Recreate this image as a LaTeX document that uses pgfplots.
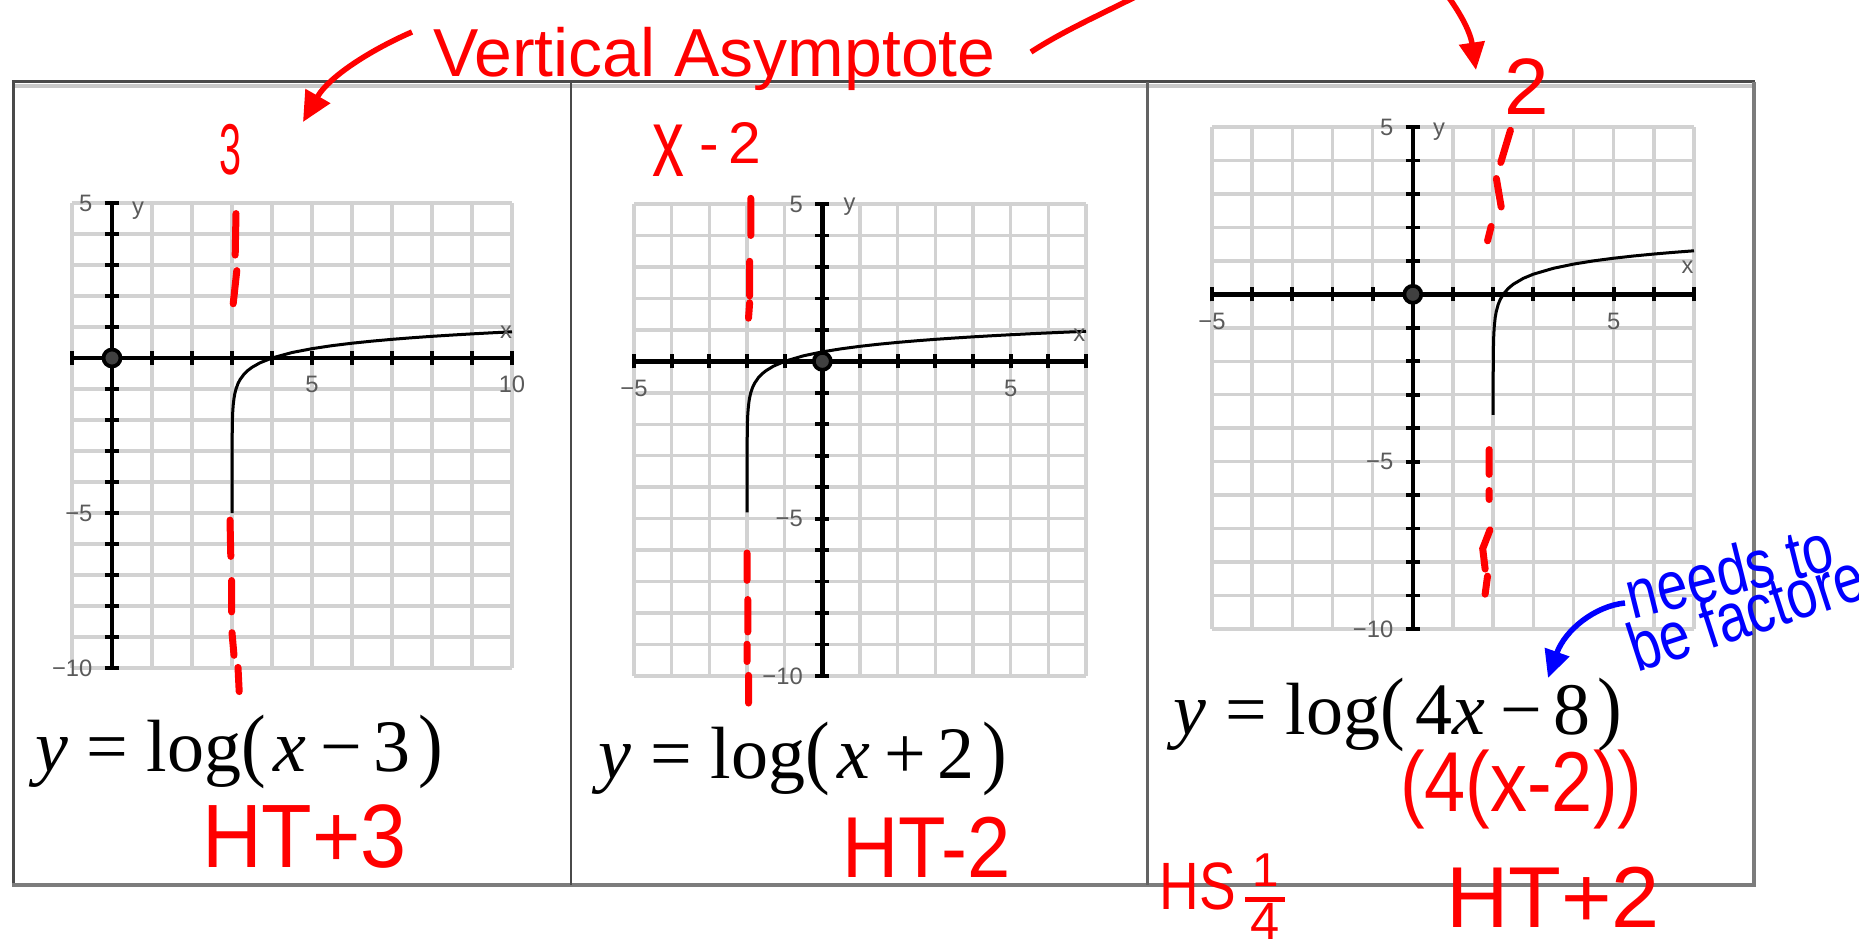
\documentclass[border=0pt]{standalone}
\usepackage{fontspec}
\setmainfont{Liberation Serif}
\newfontfamily\handfont{Liberation Sans}
\newfontfamily\ticksf{Liberation Sans}
\usepackage{graphicx}
\usepackage{pgfplots}
\pgfplotsset{compat=1.18}
\usetikzlibrary{arrows.meta}

\definecolor{gridgray}{HTML}{D2D2D2}
\definecolor{ticktext}{HTML}{5A5A5A}
\definecolor{frameDark}{HTML}{4A4A4A}
\definecolor{frameLight}{HTML}{C8C8C8}
\definecolor{frameMid}{HTML}{7C7C7C}
\definecolor{inkred}{HTML}{FF0000}
\definecolor{inkblue}{HTML}{0000FF}

\newcommand{\lp}{\scalebox{1}[1.1]{(}}
\newcommand{\rp}{\scalebox{1}[1.1]{)}}
\newcommand{\eqfont}{\fontsize{29.6}{30}\selectfont}

\pgfplotsset{
  panel/.style={
    scale only axis,
    anchor=south west,
    axis lines=middle,
    axis line style={-, black, line width=1.8pt},
    grid=both,
    major grid style={gridgray, line width=1.4pt},
    minor grid style={gridgray, line width=1.4pt},
    tick align=center,
    major tick length=5.6pt,
    minor tick length=5.6pt,
    tick style={black, line width=1.5pt},
    minor tick style={black, line width=1.5pt},
    tick label style={font=\ticksf\fontsize{9.5}{10}\selectfont, color=ticktext},
    xticklabel style={yshift=-1pt},
    yticklabel style={xshift=-1.5pt},
    ymin=-10, ymax=5,
    ytick={-10,-5,5}, yticklabels={−10,−5,5},
    minor ytick={-10,-9,...,5},
    clip=false,
  },
  curve/.style={black, line width=1.2pt, line join=round},
  asym/.style={inkred, line width=2.8pt, line cap=round, unbounded coords=jump},
  origin/.style={only marks, mark=*, mark size=3.4pt,
    mark options={draw=black, fill=black!75, line width=1.5pt}},
}

\begin{document}
\begin{tikzpicture}
\useasboundingbox (0,0) rectangle (743.6pt,377.6pt);
\clip (0,0) rectangle (743.6pt,377.6pt);

% table frame around the three panels
\begin{scope}[x=0.4pt,y=-0.4pt,yshift=377.6pt]
  \draw[frameLight, line width=1.6pt] (14,86) -- (1753,86);
  \draw[frameDark, line width=1.2pt] (12,82) -- (1755,82);
  \draw[frameDark, line width=1.2pt] (13.5,82) -- (13.5,885);
  \draw[frameMid, line width=1.6pt] (1754,82) -- (1754,886);
  \draw[frameMid, line width=1.8pt] (12,885) -- (1756,885);
  \draw[frameDark, line width=0.9pt] (571,82) -- (571,885);
  \draw[frameMid!80!black, line width=1.2pt] (1147,82) -- (1147,885);
\end{scope}

% y = log(x-3)
\begin{axis}[panel, at={(28.8pt,110.4pt)}, width=176pt, height=186pt,
  xmin=-1, xmax=10, xtick={5,10}, xticklabels={5,10}, minor xtick={-1,0,...,10}]
  \addplot[asym] coordinates {(3.1,4.66) (3.08,3.32) (3,nan)
    (3.12,2.82) (3.03,1.75) (3,nan)
    (2.95,-5.23) (2.97,-6.4) (3,nan)
    (2.99,-7.18) (2.99,-8.19) (3,nan)
    (3.0,-8.86) (3.05,-9.59) (3,nan)
    (3.15,-9.98) (3.18,-10.76)};
  \addplot[curve] coordinates {(3.00001,-5) (3.0001,-4) (3.001,-3) (3.01,-2)
    (3.02,-1.699) (3.03,-1.523) (3.05,-1.301) (3.07,-1.155) (3.1,-1)
    (3.15,-0.824) (3.2,-0.699) (3.3,-0.523) (3.4,-0.398) (3.5,-0.301)
    (3.7,-0.155) (4,0) (4.5,0.176) (5,0.301) (5.5,0.398) (6,0.477)
    (6.5,0.544) (7,0.602) (7.5,0.653) (8,0.699) (8.5,0.740) (9,0.778)
    (9.5,0.813) (10,0.845)};
  \addplot[origin] coordinates {(0,0)};
  \node[font=\ticksf\fontsize{9.5}{10}\selectfont, text=ticktext] at (axis cs:9.85,0.84) {x};
  \node[font=\ticksf\fontsize{9.5}{10}\selectfont, text=ticktext] at (axis cs:0.65,4.74) {y};
\end{axis}

% y = log(x+2)
\begin{axis}[panel, at={(253.6pt,107.2pt)}, width=180.8pt, height=188.8pt,
  xmin=-5, xmax=7, xtick={-5,5}, xticklabels={−5,5}, minor xtick={-5,-4,...,7}]
  \addplot[asym] coordinates {(-1.9,5.18) (-1.9,4.0) (-2,nan)
    (-1.93,3.18) (-1.93,2.08) (-2,nan)
    (-1.93,1.86) (-1.96,1.37) (-2,nan)
    (-2.0,-6.09) (-2.0,-6.96) (-2,nan)
    (-1.98,-7.57) (-1.98,-8.6) (-2,nan)
    (-2.0,-8.99) (-2.0,-9.54) (-2,nan)
    (-1.96,-9.98) (-1.96,-10.86)};
  \addplot[curve] coordinates {(-1.999984,-4.8) (-1.9999,-4) (-1.999,-3)
    (-1.99,-2) (-1.98,-1.699) (-1.97,-1.523) (-1.95,-1.301) (-1.93,-1.155)
    (-1.9,-1) (-1.85,-0.824) (-1.8,-0.699) (-1.7,-0.523) (-1.6,-0.398)
    (-1.5,-0.301) (-1.3,-0.155) (-1,0) (-0.5,0.176) (0,0.301) (0.5,0.398)
    (1,0.477) (1.5,0.544) (2,0.602) (2.5,0.653) (3,0.699) (3.5,0.740)
    (4,0.778) (4.5,0.813) (5,0.845) (5.5,0.875) (6,0.903) (6.5,0.929)
    (7,0.954)};
  \addplot[origin] coordinates {(0,0)};
  \node[font=\ticksf\fontsize{9.5}{10}\selectfont, text=ticktext] at (axis cs:6.82,0.83) {x};
  \node[font=\ticksf\fontsize{9.5}{10}\selectfont, text=ticktext] at (axis cs:0.72,4.9) {y};
\end{axis}

% y = log(4x-8)
\begin{axis}[panel, at={(484.8pt,126pt)}, width=192.8pt, height=200.8pt,
  xmin=-5, xmax=7, xtick={-5,5}, xticklabels={−5,5}, minor xtick={-5,-4,...,7}]
  \addplot[asym] coordinates {(2.43,4.9) (2.19,3.94) (2,nan)
    (2.08,3.46) (2.2,2.61) (2,nan)
    (1.95,2.03) (1.86,1.6) (2,nan)
    (1.9,-4.64) (1.9,-5.38) (2,nan)
    (1.9,-5.86) (1.9,-6.13) (2,nan)
    (1.92,-7.04) (1.74,-7.6) (1.8,-8.21) (2,nan)
    (1.86,-8.42) (1.8,-8.96)};
  \addplot[curve] coordinates {(2.0000628,-3.6) (2.00025,-3) (2.0025,-2)
    (2.005,-1.699) (2.0125,-1.301) (2.025,-1) (2.05,-0.699) (2.075,-0.523)
    (2.125,-0.301) (2.175,-0.155) (2.25,0) (2.375,0.176) (2.5,0.301)
    (2.75,0.477) (3,0.602) (3.5,0.778) (4,0.903) (4.5,1) (5,1.079)
    (5.5,1.146) (6,1.204) (6.5,1.255) (7,1.301)};
  \addplot[origin] coordinates {(0,0)};
  \node[font=\ticksf\fontsize{9.5}{10}\selectfont, text=ticktext] at (axis cs:6.84,0.8) {x};
  \node[font=\ticksf\fontsize{9.5}{10}\selectfont, text=ticktext] at (axis cs:0.65,4.87) {y};
\end{axis}

% equations and handwritten notes
\begin{scope}[x=0.4pt,y=-0.4pt,yshift=377.6pt, inner sep=0pt, outer sep=0pt]
  \node[anchor=base west, font=\eqfont] at (35,772)
    {{\itshape y} = log\lp\kern0.1em{\itshape x}\kern0.2em−\kern0.15em3\kern0.1em\rp};
  \node[anchor=base west, font=\eqfont] at (599,779)
    {{\itshape y} = log\lp\kern0.1em{\itshape x}\kern0.2em+\kern0.15em2\kern0.1em\rp};
  \node[anchor=base west, font=\eqfont] at (1174,735)
    {{\itshape y} = log\lp\kern0.15em4{\itshape x}\kern0.2em−\kern0.15em8\kern0.1em\rp};

  \node[anchor=base west, text=inkred, font=\handfont\fontsize{26.4}{27}\selectfont] at (433,77)
    {\resizebox{225pt}{!}{Vertical Asymptote}};
  \draw[inkred, line width=2.2pt, -{Triangle[length=12pt,width=11pt]}]
    (412,32) .. controls (375,48) and (330,75) .. (303,122);
  \draw[inkred, line width=2.2pt] (1031,52) .. controls (1065,30) and (1100,15) .. (1145,-8);
  \draw[inkred, line width=2.2pt, -{Triangle[length=11pt,width=10pt]}]
    (1447,-5) .. controls (1458,10) and (1470,30) .. (1476,70);

  \node[anchor=base west, text=inkred, font=\handfont\fontsize{28.8}{29}\selectfont] at (220,175)
    {\scalebox{0.55}[1]{3}};
  \node[anchor=base west, text=inkred, font=\handfont\fontsize{30}{30}\selectfont] at (652,177)
    {\scalebox{0.85}[1.3]{x}};
  \node[anchor=base west, text=inkred, font=\handfont\fontsize{23.5}{24}\selectfont] at (700,164)
    {-\kern0.15em2};
  \node[anchor=base west, text=inkred, font=\handfont\fontsize{32}{32}\selectfont] at (1504,115) {2};

  \node[anchor=base west, text=inkred, font=\handfont\fontsize{36}{36}\selectfont] at (202,868)
    {\scalebox{0.92}[1]{HT+3}};
  \node[anchor=base west, text=inkred, font=\handfont\fontsize{34.6}{35}\selectfont] at (842,878)
    {\scalebox{0.9}[1]{HT-2}};
  \node[anchor=base west, text=inkred, font=\handfont\fontsize{34}{34}\selectfont] at (1400,812)
    {\scalebox{0.87}[1]{(4(x-2))}};
  \node[anchor=base west, text=inkred, font=\handfont\fontsize{26.8}{27}\selectfont] at (1160,910)
    {\scalebox{0.82}[1]{HS}};
  \node[anchor=base west, text=inkred, font=\handfont\fontsize{19}{19}\selectfont] at (1252,887) {1};
  \draw[inkred, line width=2pt] (1245,900) -- (1285,900);
  \node[anchor=base west, text=inkred, font=\handfont\fontsize{21}{21}\selectfont] at (1251,940) {4};
  \node[anchor=base west, text=inkred, font=\handfont\fontsize{34.6}{35}\selectfont] at (1446,928)
    {HT+2};

  \node[anchor=base west, rotate=14, text=inkblue, font=\handfont\fontsize{22}{22}\selectfont]
    at (1633,620) {\scalebox{1}[1.25]{needs to}};
  \node[anchor=base west, rotate=18, text=inkblue, font=\handfont\fontsize{22}{22}\selectfont]
    at (1637,673) {\scalebox{1}[1.25]{be factored}};
  \draw[inkblue, line width=2.2pt, -{Triangle[length=11pt,width=10pt]}]
    (1625,603) .. controls (1595,606) and (1565,630) .. (1548,678);
\end{scope}
\end{tikzpicture}
\end{document}
